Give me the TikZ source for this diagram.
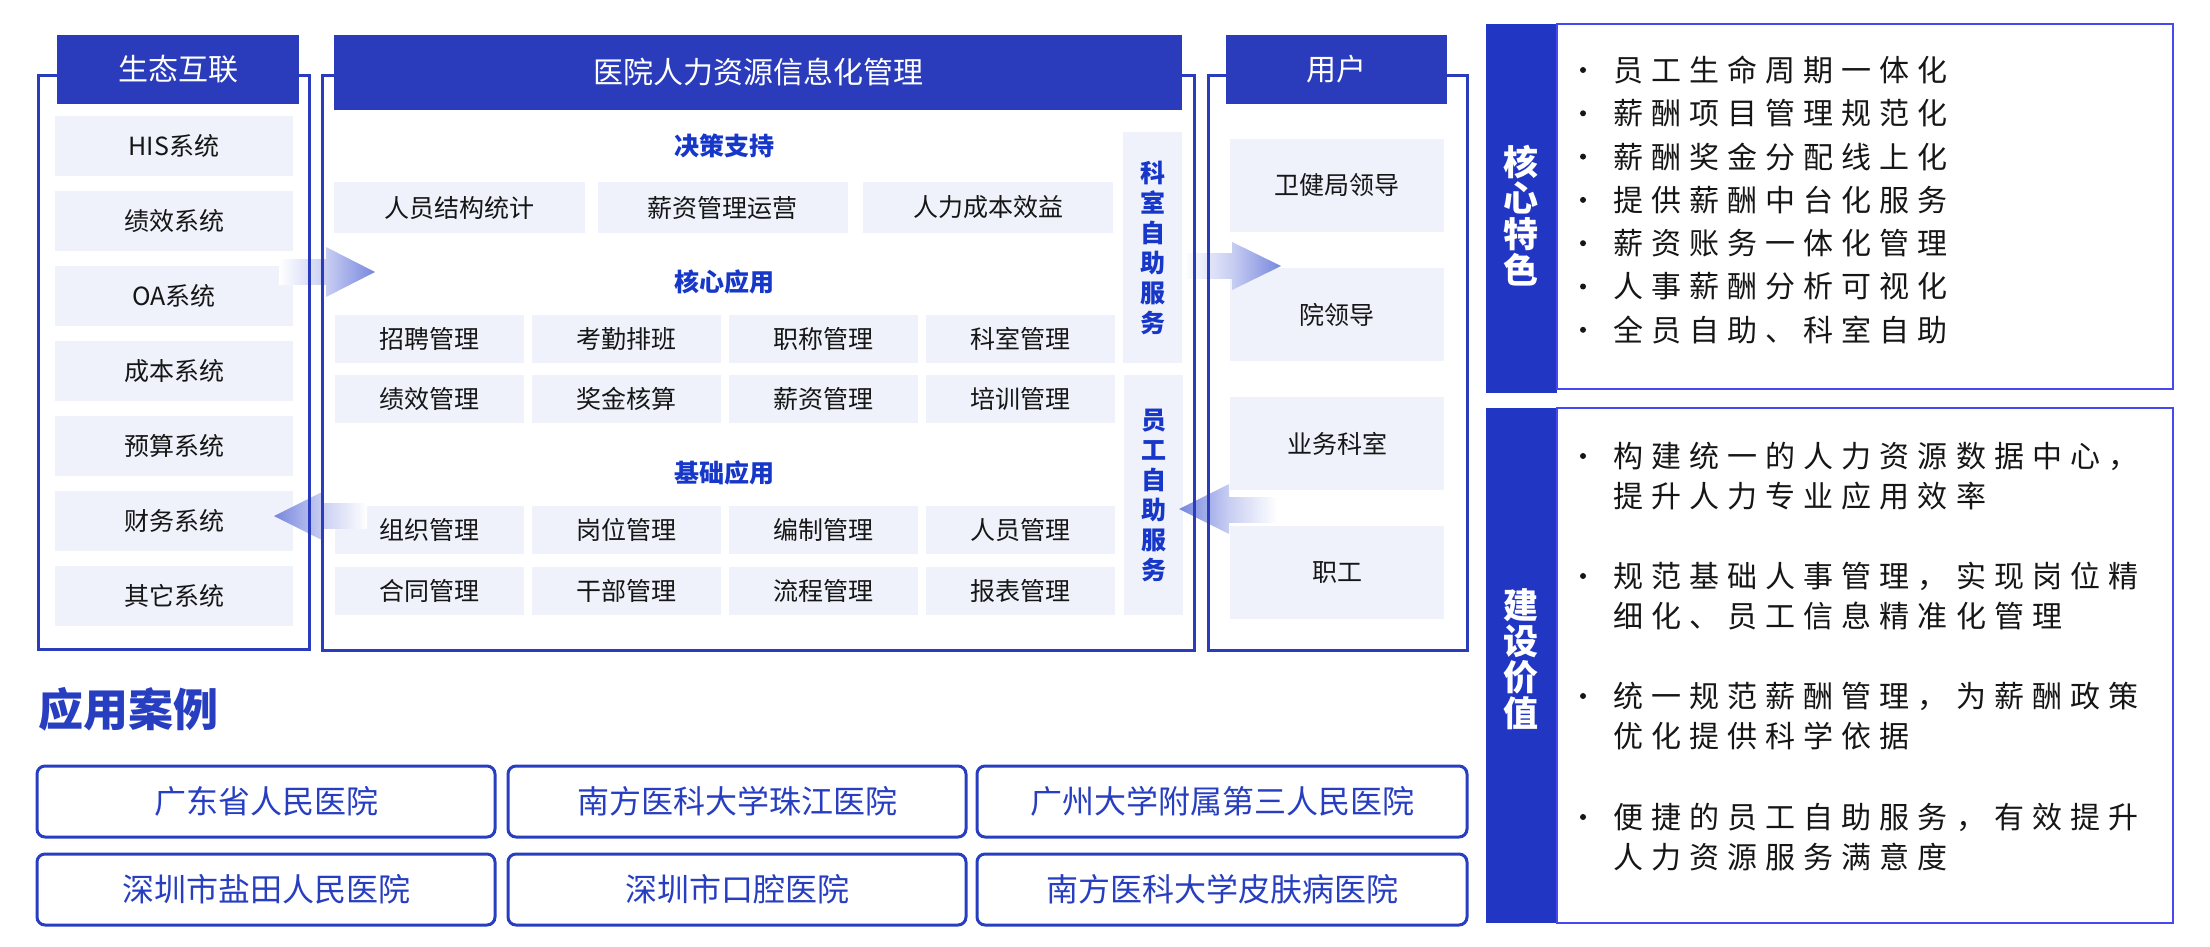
\documentclass[tikz,border=0pt]{standalone}
\usepackage{fontspec}
\setmainfont{Noto Sans CJK SC}
\newfontfamily\spacedfont[LetterSpace=27]{Noto Sans CJK SC}
\definecolor{hdrblue}{RGB}{42,60,188}
\definecolor{barblue}{RGB}{33,55,196}
\definecolor{boxborder}{RGB}{70,72,240}
\definecolor{itemfill}{RGB}{239,242,251}
\definecolor{lblblue}{RGB}{22,55,200}
\definecolor{casecol}{RGB}{40,62,192}
\definecolor{txtdark}{RGB}{22,22,22}
\definecolor{arrowlight}{RGB}{200,206,242}
\definecolor{arrowdark}{RGB}{118,134,222}
\tikzset{
  itembox/.style={fill=itemfill, inner sep=0, text=txtdark, font=\fontsize{25}{30}\selectfont},
  hdr/.style={fill=hdrblue, text=white, inner sep=0, font=\fontsize{30}{36}\selectfont},
  outline/.style={draw=hdrblue, line width=3},
  sublabel/.style={text=lblblue, inner sep=0, font=\bfseries\fontsize{25}{30}\selectfont},
  sidebox/.style={itembox, text=lblblue, align=center, font=\bfseries\fontsize{25}{30}\selectfont},
  vlabel/.style={text=white, inner sep=0, align=center, font=\bfseries\fontsize{35}{36}\selectfont},
  listtext/.style={anchor=west, inner sep=0, text=txtdark, align=left, font=\spacedfont\fontsize{30}{40}\selectfont},
  casebox/.style={draw=casecol, line width=3, rounded corners=8, minimum height=71, inner sep=0, text=casecol, font=\fontsize{32}{36}\selectfont},
}
\begin{document}
\begin{tikzpicture}[x=1pt,y=-1pt]
\useasboundingbox (0,0) rectangle (2210,947);
\fill[white] (0,0) rectangle (2210,947);

% ---------- left column: ecosystem ----------
\foreach \t [count=\i from 0] in {HIS系统,绩效系统,OA系统,成本系统,预算系统,财务系统,其它系统}
  \node[itembox, minimum width=238, minimum height=60] (eco\i) at (174,{146+75*\i}) {\t};

% ---------- main column ----------
\node[sublabel] (lDec) at (724,146) {决策支持};
\node[itembox, minimum width=251, minimum height=51] (d0) at (459.5,207.5) {人员结构统计};
\node[itembox, minimum width=250, minimum height=51] (d1) at (722.5,207.5) {薪资管理运营};
\node[itembox, minimum width=250, minimum height=51] (d2) at (988,207.5) {人力成本效益};

\node[sublabel] (lCore) at (724,282) {核心应用};
\foreach \t [count=\i from 0] in {招聘管理,考勤排班,职称管理,科室管理}
  \node[itembox, minimum width=189, minimum height=48] (ca\i) at ({429+197*\i},339) {\t};
\foreach \t [count=\i from 0] in {绩效管理,奖金核算,薪资管理,培训管理}
  \node[itembox, minimum width=189, minimum height=48] (cb\i) at ({429+197*\i},399) {\t};

\node[sublabel] (lBase) at (724,473) {基础应用};
\foreach \t [count=\i from 0] in {组织管理,岗位管理,编制管理,人员管理}
  \node[itembox, minimum width=189, minimum height=48] (ba\i) at ({429+197*\i},530) {\t};
\foreach \t [count=\i from 0] in {合同管理,干部管理,流程管理,报表管理}
  \node[itembox, minimum width=189, minimum height=48] (bb\i) at ({429+197*\i},591) {\t};

\node[sidebox, minimum width=59, minimum height=231] (ks) at (1152.5,247.5) {科\\室\\自\\助\\服\\务};
\node[sidebox, minimum width=59, minimum height=240] (ys) at (1153.5,495) {员\\工\\自\\助\\服\\务};

% ---------- users column ----------
\foreach \t [count=\i from 0] in {卫健局领导,院领导,业务科室,职工}
  \node[itembox, minimum width=214, minimum height=93] (u\i) at (1337,{185.5+129*\i}) {\t};

% ---------- gradient block arrows ----------
\shade[left color=white, right color=arrowlight] (279,259) rectangle (326,284);
\shade[left color=arrowlight, right color=arrowdark] (326,247) -- (375,272) -- (326,297) -- cycle;
\shade[left color=white, right color=arrowlight] (1184,253) rectangle (1232,278);
\shade[left color=arrowlight, right color=arrowdark] (1232,242) -- (1281,266) -- (1232,290) -- cycle;
\shade[left color=arrowlight, right color=white] (322,503) rectangle (367,528);
\shade[left color=arrowdark, right color=arrowlight] (274,516) -- (322,492) -- (322,540) -- cycle;
\shade[left color=arrowlight, right color=white] (1229,497) rectangle (1277,522);
\shade[left color=arrowdark, right color=arrowlight] (1179,509) -- (1229,484) -- (1229,534) -- cycle;

% ---------- outlines and headers ----------
\draw[outline] (38,76) rectangle (309,649);
\draw[outline] (322,76) rectangle (1194,650);
\draw[outline] (1208,76) rectangle (1467,650);
\node[hdr, minimum width=242, minimum height=69] (hEco) at (178,69.5) {生态互联};
\node[hdr, minimum width=848, minimum height=75] (hMain) at (758,72.5) {医院人力资源信息化管理};
\node[hdr, minimum width=221, minimum height=69] (hUser) at (1336.5,69.5) {用户};

% ---------- right panel: core features ----------
\fill[barblue] (1486,24) rectangle (1557,393);
\draw[boxborder, line width=2.5] (1557,24) rectangle (2173,389);
\node[vlabel] (kf) at (1521,216) {核\\心\\特\\色};
\foreach \t [count=\i from 0] in {员工生命周期一体化,薪酬项目管理规范化,薪酬奖金分配线上化,提供薪酬中台化服务,薪资账务一体化管理,人事薪酬分析可视化,全员自助、科室自助}
{
  \fill[txtdark] (1583,{70+43.3*\i}) circle (3);
  \node[listtext] (f\i) at (1613,{70+43.3*\i}) {\t};
}

% ---------- right panel: value ----------
\fill[barblue] (1486,408) rectangle (1557,923);
\draw[boxborder, line width=2.5] (1557,408) rectangle (2173,923);
\node[vlabel] (jz) at (1521,659) {建\\设\\价\\值};
\fill[txtdark] (1583,456) circle (3);
\node[listtext] (v0) at (1613,476) {构建统一的人力资源数据中心，\\提升人力专业应用效率};
\fill[txtdark] (1583,576) circle (3);
\node[listtext] (v1) at (1613,596) {规范基础人事管理，实现岗位精\\细化、员工信息精准化管理};
\fill[txtdark] (1583,696) circle (3);
\node[listtext] (v2) at (1613,716) {统一规范薪酬管理，为薪酬政策\\优化提供科学依据};
\fill[txtdark] (1583,817) circle (3);
\node[listtext] (v3) at (1613,837) {便捷的员工自助服务，有效提升\\人力资源服务满意度};

% ---------- cases ----------
\node[anchor=west, inner sep=0, text=casecol, font=\bfseries\fontsize{45}{50}\selectfont] (caseT) at (38,709) {应用案例};
\node[casebox, minimum width=458] (k0) at (266,801.5) {广东省人民医院};
\node[casebox, minimum width=458] (k1) at (737,801.5) {南方医科大学珠江医院};
\node[casebox, minimum width=490] (k2) at (1222,801.5) {广州大学附属第三人民医院};
\node[casebox, minimum width=458] (k3) at (266,889.5) {深圳市盐田人民医院};
\node[casebox, minimum width=458] (k4) at (737,889.5) {深圳市口腔医院};
\node[casebox, minimum width=490] (k5) at (1222,889.5) {南方医科大学皮肤病医院};
\end{tikzpicture}
\end{document}
